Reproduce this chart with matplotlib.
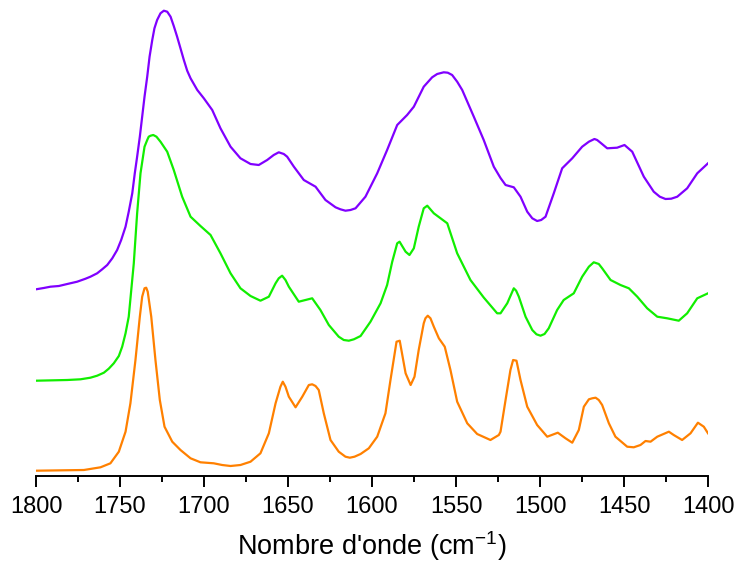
import matplotlib.pyplot as plt
from matplotlib.ticker import MultipleLocator

plt.rcParams["font.family"] = ["Liberation Sans", "DejaVu Sans"]
plt.rcParams["mathtext.default"] = "regular"

# Spectra, stacked with a vertical offset (arbitrary units)
wn_purple = [1800, 1795.4, 1791.4, 1786.4, 1781.4, 1775.5, 1770.5, 1767.6, 1763.6, 1760.6,
             1757.6, 1754.6, 1751.7, 1749.3, 1746.7, 1744.8, 1742.7, 1741.2, 1739.8, 1738.2,
             1736.8, 1735.4, 1733.8, 1732.4, 1730.8, 1729.5, 1727.9, 1725.9, 1723.9, 1721.9,
             1719.9, 1718, 1716, 1714, 1712, 1710, 1708, 1704, 1700.1, 1695.1,
             1690.2, 1684.2, 1678.3, 1672.3, 1667.4, 1662.4, 1658.5, 1655.5, 1652.5, 1650.5,
             1646.5, 1640.6, 1633.6, 1627.7, 1621.7, 1618.8, 1615.8, 1612.8, 1609.8, 1603.9,
             1596.9, 1591, 1585, 1579.1, 1575.1, 1569.2, 1564.2, 1561.2, 1557.3, 1554.9,
             1552.3, 1549.3, 1546.3, 1539.4, 1533.5, 1527.5, 1523.5, 1520.5, 1515.6, 1511.6,
             1507.6, 1504.6, 1501.7, 1499.3, 1496.7, 1491.8, 1486.8, 1480.8, 1474.9, 1470.9,
             1467.6, 1466, 1464, 1460, 1454.1, 1449.7, 1445.1, 1438.2, 1432.3, 1428.7,
             1425.3, 1421.9, 1418.3, 1412.4, 1406.4, 1400]
ab_purple = [186.2, 187.5, 188.8, 189.5, 191.5, 193.8, 196.8, 198.8, 202.2, 206.2,
             210.5, 217.2, 225.5, 235.5, 248.8, 263.8, 282.2, 302.2, 318.8, 338.8,
             358.8, 378.8, 398.8, 418.8, 435.5, 447.2, 455.5, 462.2, 464.8, 463.8,
             458.8, 449.5, 438.8, 427.2, 415.5, 404.8, 397.2, 385.5, 377.2, 365.5,
             347.2, 328.8, 317.2, 311.5, 310.5, 315.5, 320.5, 323.2, 321.5, 318.8,
             308.8, 295.5, 288.8, 275.5, 268.2, 266.2, 264.8, 265.5, 267.2, 278.8,
             302.2, 325.5, 350.5, 360.5, 368.8, 388.8, 398.2, 401.5, 403.2, 402.8,
             400.5, 393.8, 385.5, 358.8, 335.5, 308.8, 297.5, 290.5, 288.2, 278.8,
             263.8, 257.2, 254.5, 255.5, 258.8, 282.2, 307.2, 317.2, 328.8, 333.8,
             336.5, 335.5, 332.8, 327.2, 327.8, 330.5, 323.8, 298.8, 283.8, 278.8,
             276.5, 276.8, 278.8, 287.2, 302.2, 312.2]

wn_green = [1800, 1781.4, 1773.5, 1767.6, 1763.6, 1759.6, 1756.7, 1753.7, 1750.7, 1748.7,
            1746.7, 1744.8, 1741.8, 1739.8, 1737.8, 1735.4, 1733.8, 1732.9, 1731.8, 1730.2,
            1728.3, 1725.9, 1721.9, 1718, 1713, 1708, 1702.1, 1696.1, 1690.2, 1684.2,
            1678.3, 1672.3, 1666.4, 1661.4, 1657.4, 1655.5, 1653.5, 1651.5, 1649.5, 1643.6,
            1635.6, 1630.7, 1625.7, 1619.8, 1616.8, 1613.8, 1610.8, 1606.8, 1600.9, 1594.9,
            1591, 1588, 1585, 1583.6, 1580, 1577.7, 1575.1, 1572.2, 1569.2, 1567.1,
            1563.2, 1559.2, 1555.2, 1549.3, 1541.4, 1533.5, 1525.5, 1523.5, 1519.5, 1516.9,
            1515.6, 1514.2, 1512.6, 1508.6, 1504.6, 1502.1, 1499.7, 1497.3, 1494.8, 1489.8,
            1485.9, 1479.9, 1474.9, 1470.9, 1468, 1465, 1463, 1458, 1452.1, 1447.1,
            1442.1, 1436.2, 1430.2, 1424.3, 1417.4, 1412.4, 1406.4, 1400]
ab_green = [94.8, 95.5, 96.2, 97.8, 99.8, 102.8, 106.8, 112.2, 119.5, 128.8,
            142.2, 158.8, 212.0, 262.2, 302.2, 328.8, 335.5, 338.8, 339.8, 340.5,
            338.8, 333.8, 323.8, 305.5, 278.8, 258.8, 249.5, 240.5, 222.2, 202.2,
            187.2, 179.5, 174.8, 178.8, 192.2, 197.2, 199.8, 195.5, 188.8, 173.8,
            177.2, 165.5, 150.5, 138.8, 135.5, 134.8, 136.2, 139.5, 153.8, 172.2,
            190.5, 213.5, 232.2, 233.8, 223.8, 220.5, 227.2, 248.8, 267.2, 269.8,
            262.2, 257.2, 252.2, 222.2, 195.5, 178.0, 162.2, 162.2, 172.2, 182.2,
            187.2, 184.8, 178.8, 158.8, 145.5, 141.2, 139.8, 141.5, 147.2, 165.5,
            175.5, 182.2, 198.8, 208.8, 213.2, 211.5, 207.2, 195.5, 190.5, 187.2,
            178.8, 167.2, 158.8, 157.2, 154.8, 162.2, 177.2, 182.2]

wn_orange = [1800, 1771.5, 1761.6, 1755.7, 1750.7, 1746.7, 1743.8, 1740.8, 1738.2, 1736.8,
             1735.4, 1734.4, 1733.5, 1731.4, 1728.9, 1726.3, 1723.5, 1718.9, 1714, 1708,
             1702.1, 1694.2, 1689.2, 1684.2, 1678.3, 1672.3, 1666.4, 1661.4, 1657.4, 1654.5,
             1653.1, 1651.5, 1649.5, 1645.5, 1641.5, 1637.6, 1635.6, 1633.6, 1631.7, 1628.7,
             1624.7, 1619.8, 1615.8, 1613.2, 1610.4, 1606.8, 1601.9, 1596.9, 1592, 1589,
             1585.4, 1583.5, 1580, 1577, 1574.7, 1572.2, 1569.2, 1568.2, 1566.8, 1565.2,
             1563.2, 1560.2, 1556.7, 1553.3, 1549.3, 1543.3, 1537.4, 1529.5, 1524.5, 1523.5,
             1520.5, 1517.6, 1516, 1514, 1511.6, 1507.6, 1501.7, 1495.7, 1489.4, 1484.8,
             1480.8, 1476.9, 1473.9, 1470.9, 1468.9, 1466.9, 1465, 1463, 1459, 1455.1,
             1448.1, 1444.2, 1440.2, 1437.2, 1434.2, 1430.2, 1423.3, 1420.4, 1415.4, 1410.4,
             1406, 1402.5, 1400]
ab_orange = [4.8, 5.5, 8.2, 12.2, 23.8, 43.8, 72.2, 115.5, 158.8, 178.8,
             187.2, 187.8, 183.8, 158.8, 115.5, 75.5, 48.8, 33.8, 25.5, 17.2,
             13.2, 12.2, 10.5, 9.5, 10.5, 13.8, 22.2, 42.2, 72.2, 88.8,
             93.8, 88.8, 78.8, 68.2, 78.8, 90.5, 91.2, 89.5, 85.5, 62.2,
             35.5, 23.8, 18.8, 17.8, 18.8, 21.5, 27.2, 38.8, 62.2, 95.5,
             133.8, 134.8, 102.2, 90.5, 98.8, 125.5, 152.2, 157.2, 159.8, 157.2,
             148.8, 137.2, 128.8, 105.5, 73.8, 52.2, 41.5, 35.5, 40.5, 43.8,
             75.5, 105.5, 115.5, 114.8, 95.5, 68.8, 50.5, 38.8, 42.8, 37.2,
             32.8, 45.5, 68.8, 76.2, 77.2, 77.8, 75.5, 70.5, 52.2, 38.8,
             28.8, 28.2, 30.5, 34.5, 33.8, 38.8, 43.8, 40.5, 35.5, 42.2,
             52.8, 48.8, 42.2]

fig = plt.figure(figsize=(7.35, 5.67), dpi=100)
ax = fig.add_axes([36 / 735, 91.5 / 567, 672 / 735, 470 / 567])

for wn, ab, col in ((wn_purple, ab_purple, "#8000ff"),
                    (wn_green, ab_green, "#11ee00"),
                    (wn_orange, ab_orange, "#ff8000")):
    ax.plot(wn, ab, color=col, lw=1.6, solid_joinstyle="round")

ax.set_xlim(1800, 1400)
ax.set_ylim(0, 470)

for side in ("top", "right", "left"):
    ax.spines[side].set_visible(False)
ax.spines["bottom"].set_linewidth(1.4)
ax.set_yticks([])

ax.xaxis.set_major_locator(MultipleLocator(50))
ax.xaxis.set_minor_locator(MultipleLocator(25))
ax.tick_params(axis="x", which="major", direction="out", length=8, width=1.4,
               labelsize=17, pad=7)
ax.tick_params(axis="x", which="minor", direction="out", length=4, width=1.4)

ax.set_xlabel("Nombre d'onde (cm$^{-1}$)", fontsize=19.5, labelpad=8)

fig.savefig("out.png", dpi=100)
